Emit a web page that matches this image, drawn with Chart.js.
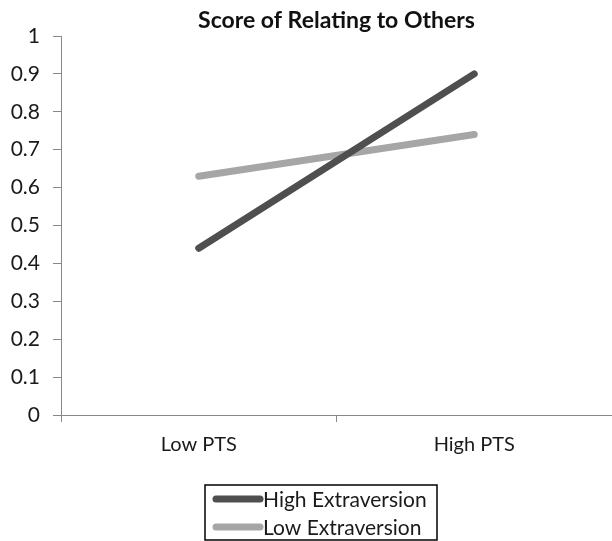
<!DOCTYPE html>
<html>
<head>
<meta charset="utf-8">
<script src="https://cdn.jsdelivr.net/npm/chart.js@4"></script>
<style>
html,body{margin:0;padding:0;background:#fff;}
#wrap{width:612px;height:541px;}
</style>
</head>
<body>
<div id="wrap"><canvas id="c" width="612" height="541"></canvas></div>
<script>
const categories = ["Low PTS", "High PTS"];
const seriesNames = ["High Extraversion", "Low Extraversion"];
const highExtraversion = [0.44, 0.90];
const lowExtraversion = [0.63, 0.74];
const yTicks = [0, 0.1, 0.2, 0.3, 0.4, 0.5, 0.6, 0.7, 0.8, 0.9, 1];
const titleText = "Score of Relating to Others";

const FONT = "Lato, 'Open Sans', sans-serif";

const boxLegend = {
  id: 'boxLegend',
  afterDraw(chart) {
    const ctx = chart.ctx;
    const left = 205, top = 485, right = 437, bottom = 540;
    ctx.save();
    ctx.strokeStyle = '#000';
    ctx.lineWidth = 1.5;
    ctx.strokeRect(left, top, right - left, bottom - top);
    ctx.font = "21px " + FONT;
    ctx.textBaseline = 'middle';
    ctx.fillStyle = '#1a1a1a';
    const rows = [499, 527];
    chart.data.datasets.forEach((ds, i) => {
      const y = rows[i];
      ctx.strokeStyle = ds.borderColor;
      ctx.lineWidth = 7;
      ctx.lineCap = 'round';
      ctx.beginPath();
      ctx.moveTo(216, y);
      ctx.lineTo(260, y);
      ctx.stroke();
      ctx.fillText(ds.label, 263, y + 1);
    });
    ctx.restore();
  }
};

new Chart(document.getElementById('c'), {
  type: 'line',
  data: {
    labels: categories,
    datasets: [
      { label: seriesNames[0], data: highExtraversion, borderColor: '#4f4f4f', backgroundColor: '#4f4f4f',
        borderWidth: 7, borderCapStyle: 'round', pointRadius: 0, fill: false, tension: 0 },
      { label: seriesNames[1], data: lowExtraversion, borderColor: '#a6a6a6', backgroundColor: '#a6a6a6',
        borderWidth: 7, borderCapStyle: 'round', pointRadius: 0, fill: false, tension: 0 }
    ]
  },
  options: {
    responsive: false,
    animation: false,
    devicePixelRatio: 1,
    layout: { padding: { left: 0, right: 0, top: 0, bottom: 0 } },
    plugins: {
      legend: { display: false },
      tooltip: { enabled: false },
      title: {
        display: true,
        text: titleText,
        fullSize: false,
        color: '#111',
        font: { family: FONT, size: 23, weight: 'bold', lineHeight: 1 },
        padding: { top: 9, bottom: 4 }
      }
    },
    scales: {
      x: {
        type: 'category',
        offset: true,
        grid: { display: true, drawOnChartArea: false, drawTicks: true, tickLength: 7, color: '#888', offset: true },
        border: { display: true, color: '#888', width: 1 },
        ticks: { color: '#1a1a1a', font: { family: FONT, size: 20 }, padding: 11 },
        afterFit(scale) { scale.height = 126; }
      },
      y: {
        min: 0, max: 1,
        afterBuildTicks(scale) { scale.ticks = yTicks.map(v => ({ value: v })); },
        grid: { display: true, drawOnChartArea: false, drawTicks: true, tickLength: 8, color: '#888' },
        border: { display: true, color: '#888', width: 1 },
        ticks: {
          color: '#1a1a1a', font: { family: FONT, size: 21 }, padding: 13,
          callback: (v) => String(Math.round(v * 10) / 10)
        },
        afterFit(scale) { scale.width = 61; }
      }
    }
  },
  plugins: [boxLegend]
});
</script>
</body>
</html>
